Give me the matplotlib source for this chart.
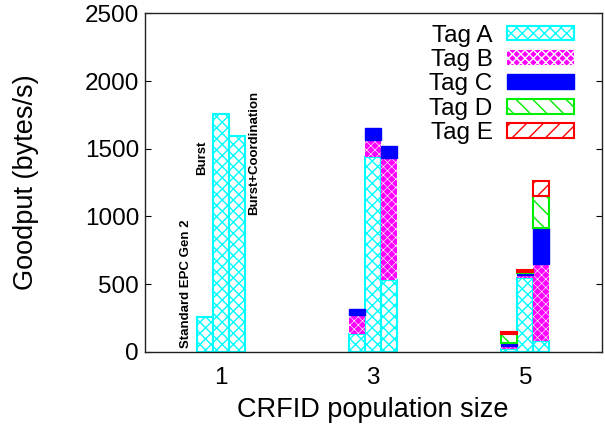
import matplotlib
matplotlib.use('Agg')
import matplotlib.pyplot as plt
import numpy as np

# population sizes and the three schemes drawn in each group
groups = [1, 3, 5]
schemes = ['Standard EPC Gen 2', 'Burst', 'Burst+Coordination']

# per-tag goodput (bytes/s), group-major: [g1 s1, g1 s2, g1 s3, g3 s1, ...]
tag_a = [255, 1755, 1595, 130, 1440, 530, 20, 543, 79]
tag_b = [0, 0, 0, 141, 126, 900, 22, 24, 567]
tag_c = [0, 0, 0, 45, 84, 91, 20, 13, 267]
tag_d = [0, 0, 0, 0, 0, 0, 69, 12, 239]
tag_e = [0, 0, 0, 0, 0, 0, 17, 12, 110]
tag_names = ['Tag A', 'Tag B', 'Tag C', 'Tag D', 'Tag E']

plt.rcParams['font.family'] = ['Liberation Sans', 'DejaVu Sans']
plt.rcParams['font.size'] = 17.5
plt.rcParams['hatch.color'] = 'white'

fig = plt.figure(figsize=(6.05, 4.3), dpi=100)
ax = fig.add_axes([0.239, 0.182, 0.7555, 0.787])

width = 0.21
offsets = [-width, 0, width]
xs = np.array([g + o for g in groups for o in offsets])

styles = [
    dict(facecolor='white', edgecolor='cyan', hatch='xxx', linewidth=1.5),
    dict(color='magenta', hatch='xxxx', linewidth=0),
    dict(facecolor='blue', edgecolor='blue', linewidth=1.0),
    dict(facecolor='white', edgecolor='#00ee00', hatch='\\\\', linewidth=1.5),
    dict(facecolor='white', edgecolor='red', hatch='//', linewidth=1.5),
]
hatch_lw = [1.0, 0.45, 1.0, 1.0, 1.0]

bottom = np.zeros(len(xs))
handles = []
for vals, st, hl, name in zip([tag_a, tag_b, tag_c, tag_d, tag_e], styles, hatch_lw, tag_names):
    v = np.array(vals, dtype=float)
    h = np.where(v > 0, v, np.nan)
    with plt.rc_context({'hatch.linewidth': hl}):
        bc = ax.bar(xs, h, width, bottom=bottom, label=name, **st)
    handles.append(bc)
    bottom = bottom + v

# scheme labels over the first group
ax.text(0.55, 25, schemes[0], rotation=90, ha='center', va='bottom',
        fontsize=9.5, fontweight='bold')
ax.text(0.75, 1305, schemes[1], rotation=90, ha='center', va='bottom',
        fontsize=9.5, fontweight='bold')
ax.text(1.44, 1010, schemes[2], rotation=90, ha='center', va='bottom',
        fontsize=9.5, fontweight='bold')

ax.set_xlim(0, 6)
ax.set_ylim(0, 2500)
ax.set_xticks(groups)
ax.set_yticks([0, 500, 1000, 1500, 2000, 2500])
ax.tick_params(axis='x', length=0, pad=11)
ax.tick_params(axis='y', direction='in', length=4.5, width=0.8, right=True, pad=4)
for sp in ax.spines.values():
    sp.set_linewidth(1.0)
    sp.set_color('#222222')

ax.set_xlabel('CRFID population size', fontsize=19.5, labelpad=6)
ax.set_ylabel('Goodput (bytes/s)', fontsize=19.5)
ax.yaxis.set_label_coords(-0.232, 0.5)

ax.legend(handles=handles, loc='upper right', bbox_to_anchor=(0.949, 0.943),
          bbox_transform=fig.transFigure, frameon=False, markerfirst=False,
          borderpad=0, borderaxespad=0, handlelength=2.75, handleheight=0.55,
          handletextpad=0.6, labelspacing=0.1)

fig.savefig('out.png', dpi=100)
